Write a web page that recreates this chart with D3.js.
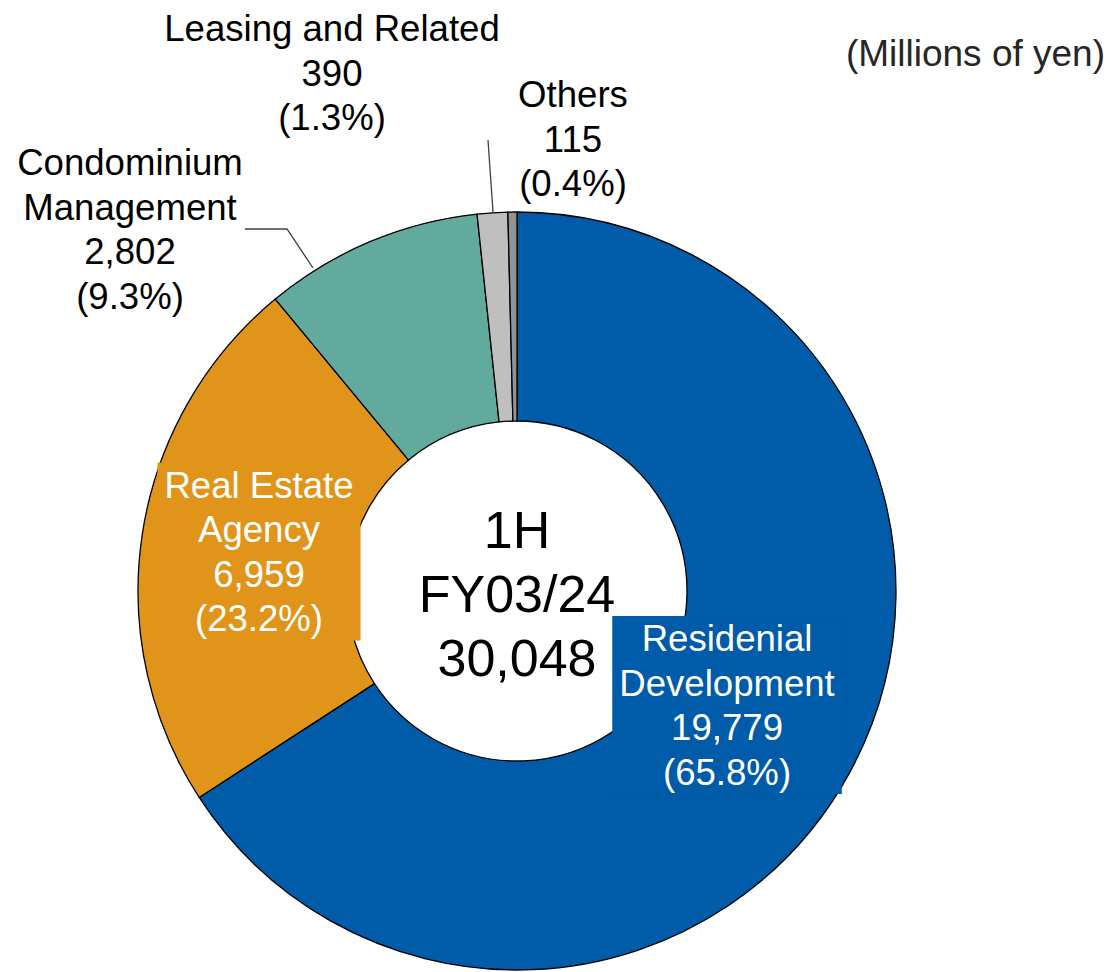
<!DOCTYPE html>
<html>
<head>
<meta charset="utf-8">
<script src="https://cdn.jsdelivr.net/npm/d3@7"></script>
<style>
  body { margin: 0; background: #fff; }
  text { font-family: "Liberation Sans", Arial, sans-serif; }
</style>
</head>
<body>
<svg id="chart"></svg>
<script>
// data
var segments = ["Residenial Development", "Real Estate Agency", "Condominium Management", "Leasing and Related", "Others"];
var values = [19779, 6959, 2802, 390, 115];
var shares = ["65.8%", "23.2%", "9.3%", "1.3%", "0.4%"];
var labelLines = [["Residenial", "Development"], ["Real Estate", "Agency"], ["Condominium", "Management"], ["Leasing and Related"], ["Others"]];
var centerLines = ["1H", "FY03/24", "30,048"];
var unitNote = "(Millions of yen)";

var width = 1112, height = 972;
var cx = 517, cy = 591;
var rOuter = 379, rInner = 170;
var colors = ["#005BA8", "#E0951A", "#62A99E", "#BFBFBF", "#939393"];
var fs = 36.6, lh = 44.5;

var svg = d3.select("#chart").attr("width", width).attr("height", height);
var g = svg.append("g").attr("transform", "translate(" + cx + "," + cy + ")");

var pie = d3.pie().sort(null).value(function(d) { return d; });
var arcs = pie(values);
var arc = d3.arc().innerRadius(rInner).outerRadius(rOuter);

g.selectAll("path.slice")
  .data(arcs)
  .enter().append("path")
  .attr("class", "slice")
  .attr("d", arc)
  .attr("fill", function(d, i) { return colors[i]; })
  .attr("stroke", "#000")
  .attr("stroke-width", 1.3);

function fmt(v) { return d3.format(",")(v); }

// labels inside the ring (white text on a box of slice colour)
var insideR = {0: 239, 1: 261};
[0, 1].forEach(function(i) {
  var a = (arcs[i].startAngle + arcs[i].endAngle) / 2;
  var x = Math.sin(a) * insideR[i], y = -Math.cos(a) * insideR[i];
  var lines = labelLines[i].concat([fmt(values[i]), "(" + shares[i] + ")"]);
  var grp = g.append("g");
  var box = grp.append("rect").attr("fill", colors[i]);
  var t = grp.append("text")
    .attr("text-anchor", "middle")
    .attr("font-size", fs)
    .attr("fill", "#fff");
  var y0 = y - (lines.length - 1) / 2 * lh + 13;
  lines.forEach(function(s, k) {
    t.append("tspan").attr("x", x).attr("y", y0 + k * lh).text(s);
  });
  var bb = t.node().getBBox();
  box.attr("x", bb.x - 7).attr("width", bb.width + 14)
     .attr("y", y - lines.length * lh / 2).attr("height", lines.length * lh);
});

// labels outside the ring
var outside = [
  {i: 2, x: 130, y: 175, leader: [[245, 229], [287, 229], [313, 268]]},
  {i: 3, x: 332, y: 41, leader: [[488, 140], [493, 212]]},
  {i: 4, x: 573, y: 107, leader: null}
];
outside.forEach(function(o) {
  var lines = labelLines[o.i].concat([fmt(values[o.i]), "(" + shares[o.i] + ")"]);
  var t = svg.append("text")
    .attr("text-anchor", "middle")
    .attr("font-size", fs)
    .attr("fill", "#000");
  lines.forEach(function(s, k) {
    t.append("tspan").attr("x", o.x).attr("y", o.y + k * lh).text(s);
  });
  if (o.leader) {
    svg.append("path")
      .datum(o.leader)
      .attr("fill", "none")
      .attr("stroke", "#404040")
      .attr("stroke-width", 1.3)
      .attr("d", d3.line());
  }
});

// center total
var ct = g.append("text")
  .attr("text-anchor", "middle")
  .attr("font-size", 52)
  .attr("fill", "#000");
centerLines.forEach(function(s, k) {
  ct.append("tspan").attr("x", 0).attr("y", -43 + k * 64).text(s);
});

svg.append("text")
  .attr("x", 1105)
  .attr("y", 66)
  .attr("text-anchor", "end")
  .attr("font-size", 37)
  .attr("fill", "#262626")
  .text(unitNote);
</script>
</body>
</html>
